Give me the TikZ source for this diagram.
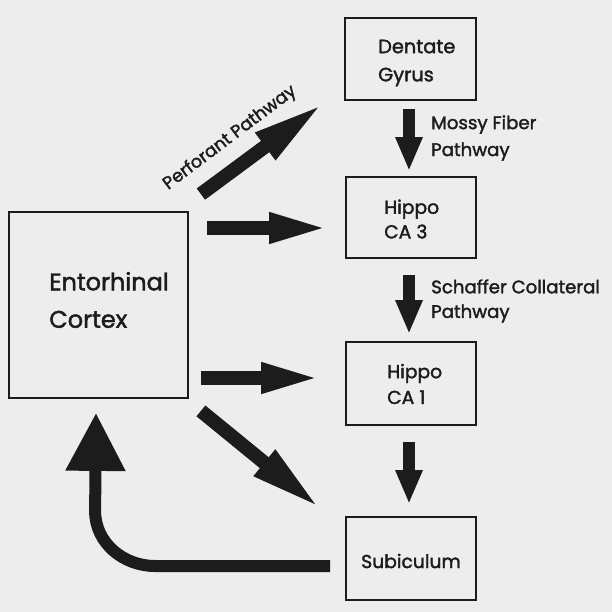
\documentclass[tikz,border=0pt]{standalone}
\usepackage{fontspec}
\setmainfont{Poppins}[FakeBold=1.8]
\usetikzlibrary{arrows.meta,calc}
\definecolor{ink}{HTML}{1C1C1C}
\definecolor{paper}{HTML}{EDEDED}
\begin{document}
\begin{tikzpicture}[x=0.3mm,y=-0.3mm,
  box/.style={draw=ink, line width=0.54mm, inner sep=0pt},
  lbl/.style={text=ink, align=left, inner sep=0pt, font=\fontsize{16}{22}\selectfont},
  horiz/.style={draw=ink, line width=4.2mm, -{Triangle[length=18.6mm, width=8.1mm]}},
  vert/.style={draw=ink, line width=3.6mm, -{Triangle[length=10.2mm, width=7.5mm]}},
  diag/.style={draw=ink, line width=4.2mm, -{Triangle[length=22mm, width=9mm]}},
  back/.style={draw=ink, line width=3.6mm, -{Triangle[length=17.4mm, width=17.1mm]}}]
\fill[paper] (0,0) rectangle (612,612);
\useasboundingbox (0,0) rectangle (612,612);

% boxes
\node[box, minimum width=39.3mm, minimum height=24.6mm] (dg) at (410.5,59) {};
\node[box, minimum width=39mm, minimum height=24.3mm] (ca3) at (411,217.5) {};
\node[box, minimum width=39mm, minimum height=24.9mm] (ca1) at (411,383.5) {};
\node[box, minimum width=39mm, minimum height=24.9mm] (sub) at (411,558.5) {};
\node[box, minimum width=53.7mm, minimum height=55.8mm] (ec) at (98.5,305) {};

% box texts
\node[lbl, anchor=west, font=\fontsize{16.5}{24}\selectfont] (dgt) at (378,63) {Dentate\\Gyrus};
\node[lbl, anchor=west, font=\fontsize{16}{21}\selectfont] (ca3t) at (384,219) {Hippo\\CA 3};
\node[lbl, anchor=west, font=\fontsize{16}{22}\selectfont] (ca1t) at (387,384) {Hippo\\CA 1};
\node[lbl, anchor=west, font=\fontsize{20.5}{32}\selectfont] (ect) at (49,300) {Entorhinal\\Cortex};
\node[lbl, font=\fontsize{16}{20}\selectfont] (subt) at (411,561) {Subiculum};

% pathway labels
\node[lbl, anchor=west, font=\fontsize{15.5}{23}\selectfont] (mossy) at (431,138) {Mossy Fiber\\Pathway};
\node[lbl, anchor=west, font=\fontsize{15.5}{21}\selectfont] (schaffer) at (431,301) {Schaffer Collateral\\Pathway};
\node[lbl, rotate=37, font=\fontsize{15}{16}\selectfont] (perf) at (230,138) {Perforant Pathway};

% connectors
\draw[vert] ([shift={(-1.5,8)}]dg.south) -- ([shift={(-2,-5)}]ca3.north);
\draw[vert] ([shift={(-2,16)}]ca3.south) -- ([shift={(-2,-7)}]ca1.north);
\draw[vert] ([shift={(-2,16)}]ca1.south) -- ([shift={(-2,-12)}]sub.north);

\draw[diag] ([shift={(12,-17)}]ec.north east) -- ([shift={(-20,2)}]dg.south west);
\draw[horiz] ([shift={(18,-77)}]ec.east) -- ([shift={(-14,10.5)}]ca3.west);
\draw[horiz] ([shift={(12,73)}]ec.east) -- ([shift={(-22,-5.5)}]ca1.west);
\draw[diag] ([shift={(12,12)}]ec.south east) -- ([shift={(-24,-7)}]sub.north west);

\draw[back] ([shift={(-15,7.5)}]sub.west) -- ++(-175,0)
  to[out=180,in=-90] ++(-60,-55) -- ([shift={(-2.5,14)}]ec.south);
\end{tikzpicture}
\end{document}
